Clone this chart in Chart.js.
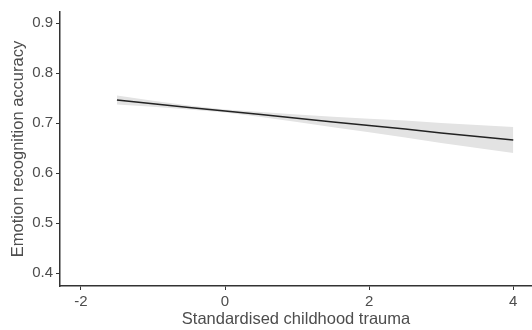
<!DOCTYPE html>
<html>
<head>
<meta charset="utf-8">
<script src="https://cdn.jsdelivr.net/npm/chart.js@4/dist/chart.umd.min.js"></script>
<style>
  html, body { margin: 0; padding: 0; background: #fff; }
  #wrap { width: 532px; height: 330px; }
</style>
</head>
<body>
<div id="wrap"><canvas id="js-trauma"></canvas></div>
<script>
var trauma = [-1.5, -1, -0.5, 0, 0.5, 1, 1.5, 2, 2.5, 3, 3.5, 4];
var fit    = [0.746, 0.7385, 0.731, 0.724, 0.717, 0.7095, 0.702, 0.695, 0.688, 0.680, 0.673, 0.666];
var upper  = [0.755, 0.7446, 0.7348, 0.7271, 0.722, 0.7172, 0.7127, 0.7087, 0.7048, 0.6998, 0.6959, 0.692];
var lower  = [0.737, 0.7324, 0.7272, 0.7209, 0.712, 0.7018, 0.6913, 0.6813, 0.6712, 0.6602, 0.6501, 0.640];
var xTicks = [-2, 0, 2, 4];
var yTicks = [0.4, 0.5, 0.6, 0.7, 0.8, 0.9];

function pts(ys) {
  return trauma.map(function(x, i){ return {x: x, y: ys[i]}; });
}

document.addEventListener('DOMContentLoaded', function(){
  var ctx = document.getElementById('js-trauma');
  var tickFont = {family: 'Liberation Sans, Arial, sans-serif', size: 15};
  var titleFont = {family: 'Liberation Sans, Arial, sans-serif', size: 16.5};

  new Chart(ctx, {
    type: 'line',
    data: {
      datasets: [{
        label: 'upper',
        data: pts(upper),
        borderWidth: 0,
        pointRadius: 0,
        backgroundColor: '#e3e3e3',
        fill: '+1',
        order: 2
      }, {
        label: 'lower',
        data: pts(lower),
        borderWidth: 0,
        pointRadius: 0,
        fill: false,
        order: 2
      }, {
        label: 'fit',
        data: pts(fit),
        borderColor: '#222',
        borderWidth: 1.6,
        pointRadius: 0,
        fill: false,
        order: 0
      }]
    },
    options: {
      responsive: true,
      maintainAspectRatio: false,
      animation: false,
      layout: {padding: {top: 10, right: 0, left: 0, bottom: 0}},
      plugins: {legend: {display: false}, tooltip: {enabled: false}},
      scales: {
        x: {
          type: 'linear',
          min: -2.29,
          max: 4.26,
          afterBuildTicks: function(scale){
            scale.ticks = xTicks.map(function(v){ return {value: v}; });
          },
          afterFit: function(scale){ scale.height = 44; },
          border: {display: true, color: '#333', width: 1.5},
          grid: {drawOnChartArea: false, drawTicks: true, tickLength: 4, color: '#333'},
          ticks: {color: '#4d4d4d', font: tickFont, padding: 3, maxRotation: 0},
          title: {
            display: true,
            text: 'Standardised childhood trauma',
            color: '#4d4d4d',
            font: titleFont,
            padding: {top: 0, bottom: 1}
          }
        },
        y: {
          min: 0.374,
          max: 0.922,
          afterBuildTicks: function(scale){
            scale.ticks = yTicks.map(function(v){ return {value: v}; });
          },
          afterFit: function(scale){ scale.width = 60; },
          border: {display: true, color: '#333', width: 1.5},
          grid: {drawOnChartArea: false, drawTicks: true, tickLength: 4, color: '#333'},
          ticks: {
            color: '#4d4d4d',
            font: tickFont,
            padding: 3,
            callback: function(v){ return v.toFixed(1); }
          },
          title: {
            display: true,
            text: 'Emotion recognition accuracy',
            color: '#4d4d4d',
            font: titleFont,
            padding: {top: 9, bottom: 0}
          }
        }
      }
    }
  });
});
</script>
</body>
</html>
